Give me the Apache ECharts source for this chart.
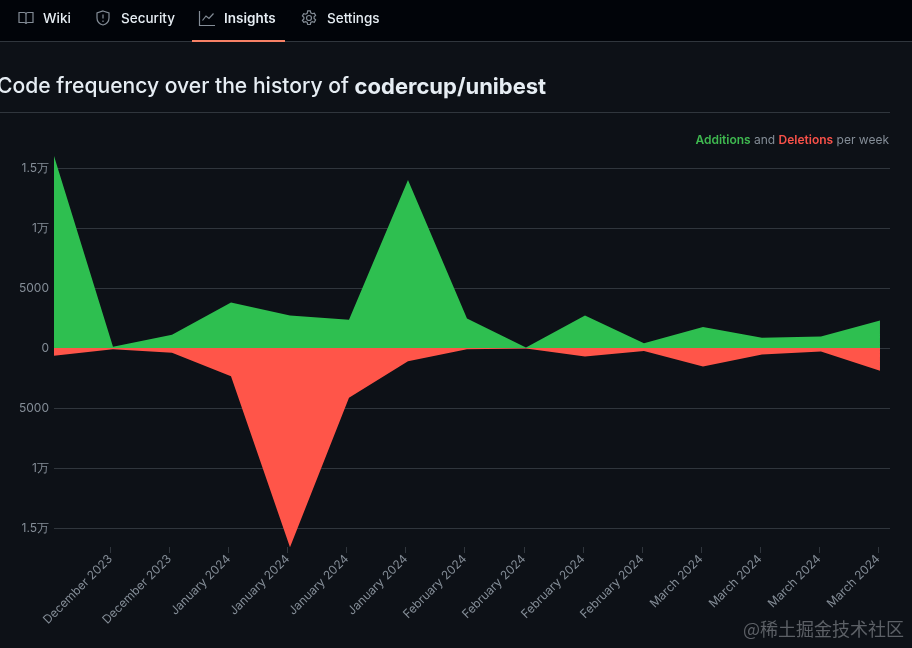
<!DOCTYPE html>
<html>
<head>
<meta charset="utf-8">
<style>
  html, body { margin: 0; padding: 0; background: #0d1117; }
  #chart { width: 912px; height: 648px; }
</style>
<script src="https://cdn.jsdelivr.net/npm/echarts@6/dist/echarts.min.js"></script>
</head>
<body>
<div id="chart"></div>
<script>
const weeks = [0, 1, 2, 3, 4, 5, 6, 7, 8, 9, 10, 11, 12, 13, 14]
const additions = [16000, 100, 1100, 3800, 2700, 2350, 14000, 2450, 50, 2700, 400, 1750, 850, 950, 2300]
const deletions = [-650, -100, -400, -2350, -16600, -4150, -1100, -100, -50, -700, -250, -1550, -550, -300, -1900]
const tickLabels = [
  'December 2023', 'December 2023', 'January 2024', 'January 2024', 'January 2024', 'January 2024', 'February 2024',
  'February 2024', 'February 2024', 'February 2024', 'March 2024', 'March 2024', 'March 2024', 'March 2024'
]
const tabs = [
  { name: 'Wiki', x: 43 },
  { name: 'Security', x: 121 },
  { name: 'Insights', x: 224, bold: true },
  { name: 'Settings', x: 327 }
]
const icons = [
  { x: 18, d: 'M1 2.5h5c1 0 2 .8 2 2V14c0-1-1-1.5-2-1.5H1z M15 2.5h-5c-1 0-2 .8-2 2V14c0-1 1-1.5 2-1.5h5z' },
  { x: 95, d: 'M8 1l6 2v5c0 3.5-2.5 6-6 7-3.5-1-6-3.5-6-7V3z M8 4.5v4 M8 10.5v1.5' },
  { x: 199, d: 'M.5 1v14.5h15.5 M3.5 10.5l3.5-4.5 3 2.5 4.5-5' },
  { x: 301, d: 'M6.7 .8h2.6l.5 2 1.5.9 2-.6 1.3 2.3-1.5 1.4v1.7l1.5 1.4-1.3 2.3-2-.6-1.5.9-.5 2H6.7l-.5-2-1.5-.9-2 .6L1.4 10.4l1.5-1.4V7.3L1.4 5.9 2.7 3.6l2 .6 1.5-.9z M10.5 8a2.5 2.5 0 1 1-5 0 2.500 2.500 0 1 1 5 0z' }
]

const FONT = 'Inter, "Noto Sans", sans-serif'
const MUTED = '#848d97'
const BORDER = '#30363d'

// 万 labels on both sides of zero
function formatCount(value) {
  const abs = Math.abs(value)
  return abs >= 10000 ? abs / 10000 + '万' : String(abs)
}

const chrome = [
  { type: 'rect', z: 0, shape: { x: 0, y: 0, width: 912, height: 41 }, style: { fill: '#010409' } },
  { type: 'rect', z: 1, shape: { x: 0, y: 41, width: 912, height: 1 }, style: { fill: BORDER } },
  { type: 'rect', z: 2, shape: { x: 192, y: 40, width: 93, height: 2 }, style: { fill: '#f78166' } },
  { type: 'rect', z: 1, shape: { x: 0, y: 112, width: 890, height: 1 }, style: { fill: BORDER } },
  {
    type: 'text', z: 2, x: -3, y: 87,
    style: {
      text: '{a|Code frequency over the history of }{b|codercup/unibest}',
      verticalAlign: 'middle',
      rich: {
        a: { font: '500 21.1px ' + FONT, fill: '#e6edf3' },
        b: { font: '700 22px ' + FONT, fill: '#e6edf3' }
      }
    }
  },
  {
    type: 'text', z: 2, x: 889, y: 140,
    style: {
      text: '{g|Additions}{m| and }{r|Deletions}{m| per week}',
      align: 'right',
      verticalAlign: 'middle',
      rich: {
        g: { font: '600 12px ' + FONT, fill: '#3fb950' },
        r: { font: '600 12px ' + FONT, fill: '#f85149' },
        m: { font: '400 12px ' + FONT, fill: MUTED }
      }
    }
  },
  {
    type: 'text', z: 5, x: 904, y: 629,
    style: {
      text: '@稀土掘金技术社区',
      align: 'right',
      verticalAlign: 'middle',
      font: '400 18px "Noto Sans CJK SC", sans-serif',
      fill: '#5c6066'
    }
  }
]
tabs.forEach(tab => {
  chrome.push({
    type: 'text', z: 2, x: tab.x, y: 19,
    style: {
      text: tab.name,
      verticalAlign: 'middle',
      font: (tab.bold ? '600' : '500') + ' 13.5px ' + FONT,
      fill: '#e6edf3'
    }
  })
})
// graphic has no plain path type, so each icon becomes a registered shape
icons.forEach((icon, i) => {
  const shapeName = 'tabIcon' + i
  echarts.graphic.registerShape(shapeName, echarts.graphic.extendPath(icon.d, {}))
  chrome.push({
    type: shapeName, z: 2, x: icon.x, y: 10,
    style: { fill: 'none', stroke: MUTED, lineWidth: 1.2 }
  })
})

const chart = echarts.init(document.getElementById('chart'))
chart.setOption({
  backgroundColor: '#0d1117',
  animation: false,
  graphic: chrome,
  grid: [
    { left: 54, top: 108, width: 836, height: 480 },
    // labels and ticks sit slightly left of the data points
    { left: 110.5, top: 520, width: 767.5, height: 27 }
  ],
  xAxis: [
    { type: 'value', gridIndex: 0, min: 0, max: 14.17, show: false },
    {
      type: 'category',
      gridIndex: 1,
      data: tickLabels,
      boundaryGap: false,
      axisLine: { show: false },
      axisTick: { show: true, length: 6, interval: 0, lineStyle: { color: BORDER } },
      axisLabel: { interval: 0, rotate: 45, color: MUTED, fontFamily: FONT, fontSize: 12, margin: 10 }
    }
  ],
  yAxis: [
    {
      type: 'value',
      gridIndex: 0,
      min: -20000,
      max: 20000,
      interval: 5000,
      axisLine: { show: false },
      axisTick: { show: false },
      splitLine: { showMinLine: false, showMaxLine: false, lineStyle: { color: BORDER } },
      axisLabel: {
        showMinLabel: false,
        showMaxLabel: false,
        color: MUTED,
        fontFamily: FONT,
        fontSize: 12,
        margin: 5,
        formatter: formatCount
      }
    },
    { type: 'value', gridIndex: 1, show: false }
  ],
  series: [
    {
      name: 'Additions',
      type: 'line',
      data: weeks.map((w, i) => [w, additions[i]]),
      showSymbol: false,
      lineStyle: { width: 0 },
      areaStyle: { color: '#2ebf50', opacity: 1 }
    },
    {
      name: 'Deletions',
      type: 'line',
      data: weeks.map((w, i) => [w, deletions[i]]),
      showSymbol: false,
      lineStyle: { width: 0 },
      areaStyle: { color: '#ff5549', opacity: 1 }
    }
  ]
})
</script>
</body>
</html>
